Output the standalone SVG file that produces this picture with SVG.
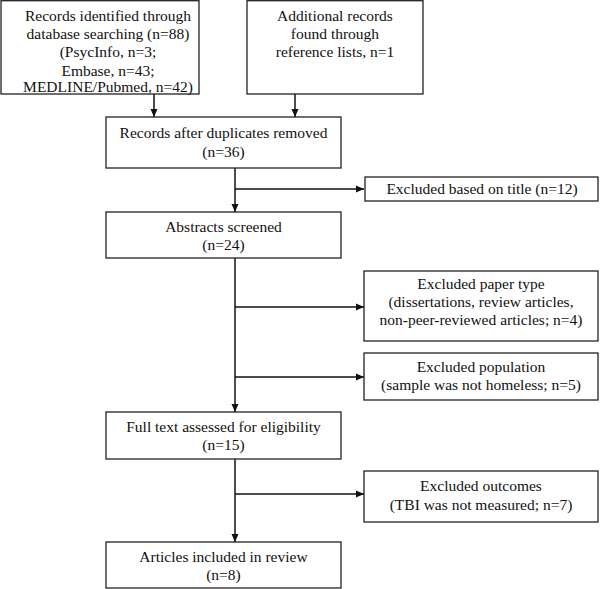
<svg xmlns="http://www.w3.org/2000/svg" width="600" height="589" viewBox="0 0 600 589">
<defs>
<marker id="ah" markerWidth="8" markerHeight="8" refX="8" refY="4" orient="auto" markerUnits="userSpaceOnUse">
<path d="M0,0.5 L8,4 L0,7.5 Z" fill="#111"/>
</marker>
</defs>
<style>
rect{fill:#fff;stroke:#222;stroke-width:1.3}
text{font-family:'Liberation Serif','Times New Roman','DejaVu Serif',serif;font-size:15.5px;fill:#111;text-anchor:middle}
.c{fill:none;stroke:#111;stroke-width:1.5}
</style>
<rect x="0" y="0" width="600" height="589" style="stroke:none"/>
<g id="connectors">
<line class="c" x1="154" y1="94" x2="154" y2="117" marker-end="url(#ah)"/>
<line class="c" x1="295" y1="94" x2="295" y2="117" marker-end="url(#ah)"/>
<line class="c" x1="235" y1="168" x2="235" y2="212" marker-end="url(#ah)"/>
<line class="c" x1="235" y1="189" x2="364" y2="189" marker-end="url(#ah)"/>
<line class="c" x1="235" y1="258" x2="235" y2="412" marker-end="url(#ah)"/>
<line class="c" x1="235" y1="307" x2="364" y2="307" marker-end="url(#ah)"/>
<line class="c" x1="235" y1="377" x2="364" y2="377" marker-end="url(#ah)"/>
<line class="c" x1="235" y1="459" x2="235" y2="542" marker-end="url(#ah)"/>
<line class="c" x1="235" y1="494" x2="364" y2="494" marker-end="url(#ah)"/>
</g>
<g id="db">
<rect x="1" y="0.7" width="198" height="93.3"/>
<text x="108" y="21">Records identified through</text>
<text x="108" y="39">database searching (n=88)</text>
<text x="108" y="57">(PsycInfo, n=3;</text>
<text x="108" y="75.5">Embase, n=43;</text>
<text x="108" y="92">MEDLINE/Pubmed, n=42)</text>
</g>
<g id="additional">
<rect x="247" y="0.7" width="176" height="93.3"/>
<text x="335" y="21">Additional records</text>
<text x="335" y="39">found through</text>
<text x="335" y="57">reference lists, n=1</text>
</g>
<g id="dedup">
<rect x="106" y="117" width="235" height="51"/>
<text x="223.5" y="138">Records after duplicates removed</text>
<text x="223.5" y="157">(n=36)</text>
</g>
<g id="excl-title">
<rect x="365" y="177" width="233" height="24"/>
<text x="482" y="194">Excluded based on title (n=12)</text>
</g>
<g id="abstracts">
<rect x="106" y="212" width="235" height="46"/>
<text x="223.5" y="232">Abstracts screened</text>
<text x="223.5" y="250">(n=24)</text>
</g>
<g id="excl-type">
<rect x="364" y="271" width="234" height="70"/>
<text x="481" y="289">Excluded paper type</text>
<text x="481" y="307">(dissertations, review articles,</text>
<text x="481" y="325">non-peer-reviewed articles; n=4)</text>
</g>
<g id="excl-pop">
<rect x="364" y="353" width="234" height="47"/>
<text x="481" y="372">Excluded population</text>
<text x="481" y="390">(sample was not homeless; n=5)</text>
</g>
<g id="fulltext">
<rect x="106" y="412" width="235" height="47"/>
<text x="223.5" y="432">Full text assessed for eligibility</text>
<text x="223.5" y="450">(n=15)</text>
</g>
<g id="excl-outcomes">
<rect x="364" y="471" width="234" height="51"/>
<text x="481" y="491">Excluded outcomes</text>
<text x="481" y="510">(TBI was not measured; n=7)</text>
</g>
<g id="included">
<rect x="106" y="542" width="235" height="46"/>
<text x="223.5" y="562">Articles included in review</text>
<text x="223.5" y="580">(n=8)</text>
</g>
</svg>
